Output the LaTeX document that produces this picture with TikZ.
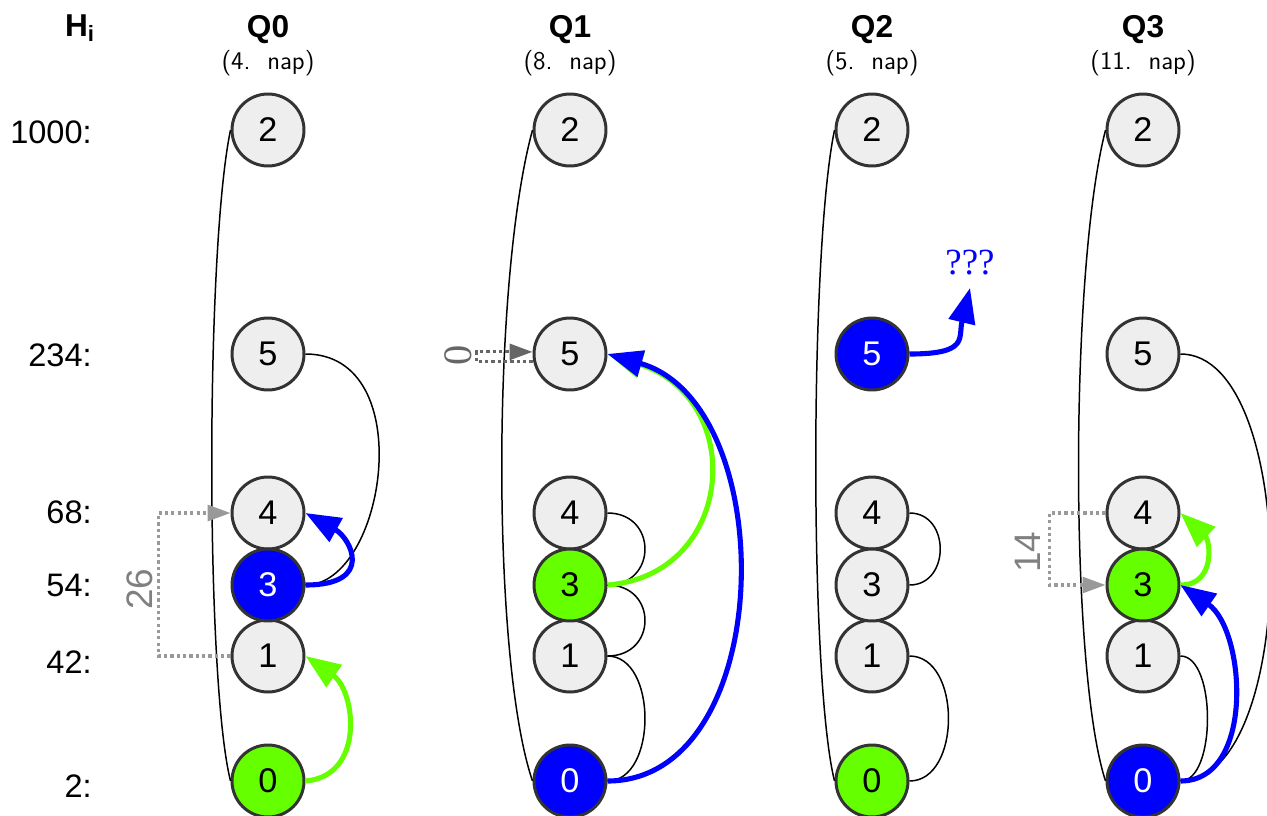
\documentclass[tikz,border=0pt]{standalone}
\usepackage{fontspec}
\setmainfont{Liberation Sans}
\newfontfamily\talpas{Liberation Serif}
\usetikzlibrary{arrows.meta}

\begin{document}
\begin{tikzpicture}[x=0.02cm, y=-0.02cm,
    kor/.style={circle, draw=sotet, line width=1.7pt, fill=halvany,
        minimum size=1.44cm, inner sep=0pt, font=\fontsize{19.5}{22}\selectfont},
    kek/.style={kor, fill=blue, text=white},
    zold/.style={kor, fill=neon},
    el/.style={line width=0.85pt},
    kekny/.style={draw=blue, line width=2.9pt, -{Triangle[length=20pt,width=15pt]}},
    zoldny/.style={draw=neon, line width=2.9pt, -{Triangle[length=20pt,width=15pt]}},
    pont/.style={draw=szurke, line width=1.8pt, dash pattern=on 1.8pt off 1.8pt,
        -{Triangle[length=13pt,width=9pt]}},
    fej/.style={font=\bfseries\fontsize{18}{20}\selectfont},
    nap/.style={font=\sffamily\fontsize{14.5}{16}\selectfont},
    szint/.style={anchor=east, inner sep=0pt, font=\fontsize{18.5}{21}\selectfont},
    szam/.style={rotate=90, text=szurkebetu, font=\fontsize{21}{24}\selectfont}]
\definecolor{halvany}{HTML}{EEEEEE}
\definecolor{sotet}{HTML}{333333}
\definecolor{neon}{HTML}{66FF00}
\definecolor{szurke}{HTML}{999999}
\definecolor{szurkebetu}{HTML}{808080}
\definecolor{sotetszurke}{HTML}{666666}

\useasboundingbox (0,0) rectangle (1267,815);

% fejlec
\node[fej] (hfej) at (80,28) {H\textsubscript{i}};
\node[fej] (q0fej) at (268,30) {Q0};
\node[nap] (q0nap) at (268,63) {(4.~~nap)};
\node[fej] (q1fej) at (570,30) {Q1};
\node[nap] (q1nap) at (570,63) {(8.~~nap)};
\node[fej] (q2fej) at (872,30) {Q2};
\node[nap] (q2nap) at (872,63) {(5.~~nap)};
\node[fej] (q3fej) at (1143,30) {Q3};
\node[nap] (q3nap) at (1143,63) {(11.~~nap)};

% szintek
\node[szint] (h1000) at (92,132) {1000:};
\node[szint] (h234) at (92,355) {234:};
\node[szint] (h68) at (92,512) {68:};
\node[szint] (h54) at (92,585) {54:};
\node[szint] (h42) at (92,662) {42:};
\node[szint] (h2) at (92,786) {2:};

% Q0
\node[kor] (q0k2) at (268,130) {2};
\node[kor] (q0k5) at (268,354) {5};
\node[kor] (q0k4) at (268,513) {4};
\node[kor] (q0k1) at (268,656) {1};
\node[kek] (q0k3) at (268,585) {3};
\node[zold] (q0k0) at (268,781) {0};

\draw[el] (q0k2.west) .. controls +(-25,120) and +(-25,-100) .. (q0k0.west);
\draw[el] (q0k5.east) .. controls +(115,0) and +(80,0) .. (q0k3.east);
\draw[kekny] (q0k3.east) .. controls +(70,0) and +(45,25) .. (q0k4.east);
\draw[zoldny] (q0k0.east) .. controls +(60,-5) and +(50,35) .. (q0k1.east);
\draw[pont] (q0k1.west) -- ++(-72,0) |- (q0k4.west);
\node[szam] (q0kul) at (140,589) {26};

% Q1
\node[kor] (q1k2) at (570,130) {2};
\node[kor] (q1k5) at (570,354) {5};
\node[kor] (q1k4) at (570,513) {4};
\node[kor] (q1k1) at (570,656) {1};
\node[zold] (q1k3) at (570,585) {3};
\node[kek] (q1k0) at (570,781) {0};

\draw[el] (q1k2.west) .. controls +(-41,150) and +(-41,-120) .. (q1k0.west);
\draw[pont, draw=sotetszurke] ([yshift=-4.5pt]q1k5.west) -- ++(-56,0)
    |- ([yshift=1.2pt]q1k5.west);
\node[szam, text=sotetszurke, font=\talpas\fontsize{23}{26}\selectfont] (q1kul)
    at (458,355) {0};
\draw[el] (q1k4.east) .. controls +(50,0) and +(50,0) .. (q1k3.east);
\draw[el] (q1k3.east) .. controls +(50,0) and +(50,0) .. (q1k1.east);
\draw[el] (q1k1.east) .. controls +(50,0) and +(50,0) .. (q1k0.east);
\draw[zoldny] (q1k3.east) .. controls +(128,-10) and +(140,45) .. (q1k5.east);
\draw[kekny] (q1k0.east) .. controls +(170,0) and +(175,50) .. (q1k5.east);

% Q2
\node[kor] (q2k2) at (872,130) {2};
\node[kek] (q2k5) at (872,354) {5};
\node[kor] (q2k4) at (872,513) {4};
\node[kor] (q2k1) at (872,656) {1};
\node[kor] (q2k3) at (872,585) {3};
\node[zold] (q2k0) at (872,781) {0};

\draw[el] (q2k2.west) .. controls +(-25,120) and +(-25,-100) .. (q2k0.west);
\draw[el] (q2k4.east) .. controls +(41,0) and +(41,0) .. (q2k3.east);
\draw[el] (q2k1.east) .. controls +(52,0) and +(52,0) .. (q2k0.east);
\coordinate (q2cel) at (970,288);
\draw[kekny] (q2k5.east) .. controls +(60,0) and +(-12,50) .. (q2cel);
\node[text=blue, font=\talpas\fontsize{21}{24}\selectfont] (q2kerdes)
    at (970,263) {???};

% Q3
\node[kor] (q3k2) at (1143,130) {2};
\node[kor] (q3k5) at (1143,354) {5};
\node[kor] (q3k4) at (1143,513) {4};
\node[kor] (q3k1) at (1143,656) {1};
\node[zold] (q3k3) at (1143,585) {3};
\node[kek] (q3k0) at (1143,781) {0};

\draw[el] (q3k2.west) .. controls +(-36,140) and +(-36,-110) .. (q3k0.west);
\draw[el] (q3k5.east) .. controls +(120,0) and +(120,0) .. (q3k0.east);
\draw[el] (q3k1.east) .. controls +(36,0) and +(36,0) .. (q3k0.east);
\draw[zoldny] (q3k3.east) .. controls +(35,0) and +(30,28) .. (q3k4.east);
\draw[kekny] (q3k0.east) .. controls +(75,0) and +(65,45) .. (q3k3.east);
\draw[pont] (q3k4.west) -- ++(-56,0) |- (q3k3.west);
\node[szam] (q3kul) at (1028,552) {14};

\end{tikzpicture}
\end{document}
